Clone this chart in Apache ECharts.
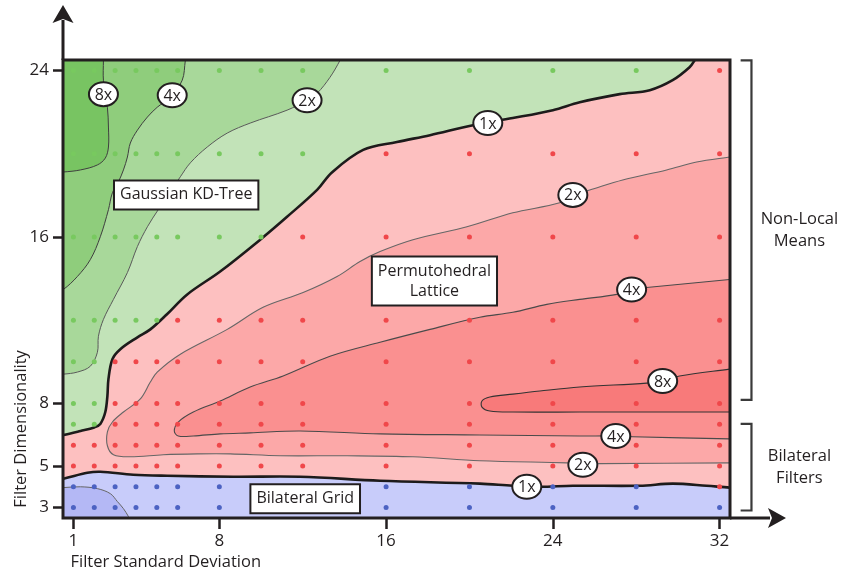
<!DOCTYPE html>
<html>
<head>
<meta charset="utf-8">
<title>Fastest filter by standard deviation and dimensionality</title>
<script src="https://cdn.jsdelivr.net/npm/echarts@6/dist/echarts.min.js"></script>
<style>
  html, body { margin: 0; padding: 0; background: #fff; }
  #chart { width: 854px; height: 577px; }
</style>
</head>
<body>
<div id="chart"></div>
<script>
var INK = '#231f20';
var FONT = '"Open Sans", "Noto Sans", sans-serif';

// axis ticks
var xTicks = [1, 8, 16, 24, 32];
var yTicks = [3, 5, 8, 16, 24];

// sample grid, one letter per point = fastest method (G kd-tree, R lattice, B grid)
var sampleX = [1, 2, 3, 4, 5, 6, 8, 10, 12, 16, 20, 24, 28, 32];
var sampleY = [24, 20, 16, 12, 10, 8, 7, 6, 5, 4, 3];
var sampleWinner = [
  'GGGGGGGGGGGGGR',
  'GGGGGGGGGRRRRR',
  'GGGGGGGGRRRRRR',
  'GGGGGRRRRRRRRR',
  'GGRRRRRRRRRRRR',
  'GGRRRRRRRRRRRR',
  'GGRRRRRRRRRRRR',
  'RRRRRRRRRRRRRR',
  'RRRRRRRRRRRRRR',
  'BBBBBBBBBBBBBR',
  'BBBBBBBBBBBBBB'
];

// contour lines [std dev, dimensionality]
// kd-tree vs lattice, left edge -> top edge
var kdTree1x = [[0.14,6.44],[0.52,6.49],[1.34,6.68],[2.0,6.85],[2.29,7.02],[2.53,7.59],[2.63,8.36],[2.68,9.17],[2.87,10.13],[3.25,10.61],[4.07,11.18],[4.69,11.56],[5.5,12.3],[6.46,13.24],[8.04,14.34],[9.96,15.87],[11.25,16.97],[12.69,18.26],[13.4,19.1],[14.9,20.18],[16.52,20.56],[18.11,20.89],[20.17,21.37],[22.08,21.71],[24.0,22.09],[25.29,22.47],[27.21,22.86],[28.65,23.05],[29.75,23.53],[30.56,24.15],[30.8,24.48],[31.0,24.87]];
var kdTree2x = [[0.14,9.41],[0.52,9.41],[1.19,9.51],[1.81,9.79],[2.15,10.46],[2.2,11.23],[2.44,12.04],[2.92,13.0],[3.59,14.29],[4.07,15.54],[4.55,16.49],[5.07,17.31],[6.13,18.89],[6.61,19.56],[7.42,20.32],[8.38,20.99],[9.48,21.47],[11.25,22.09],[12.21,22.57],[12.69,22.9],[13.31,23.67],[13.79,24.48],[13.89,24.72]];
var kdTree4x = [[0.14,13.33],[0.52,13.48],[1.19,14.1],[1.81,14.91],[2.29,16.01],[2.68,17.31],[2.87,18.12],[3.16,18.65],[3.4,19.22],[3.59,19.84],[3.73,20.51],[4.07,21.13],[4.55,21.76],[5.02,22.23],[5.65,22.71],[6.22,23.53],[6.37,24.48],[6.41,24.72]];
var kdTree8x = [[0.14,19.12],[0.52,19.12],[1.34,19.22],[2.15,19.46],[2.53,19.79],[2.68,20.32],[2.68,21.28],[2.63,22.23],[2.44,23.53],[2.44,24.48],[2.44,24.72]];
// bilateral grid vs lattice, left -> right
var grid1x = [[0.14,4.34],[0.52,4.39],[1.67,4.67],[2.29,4.72],[3.87,4.58],[5.5,4.53],[8.67,4.48],[11.88,4.48],[15.71,4.29],[20.5,4.15],[22.08,4.05],[23.38,4.0],[24.96,4.05],[28.17,4.05],[29.75,4.15],[31.38,4.05],[32.48,3.96],[32.86,3.96]];
var grid2x = [[0.14,3.96],[0.52,3.96],[1.34,4.0],[2.15,3.91],[2.77,3.67],[3.11,3.29],[3.4,2.95],[3.64,2.57],[3.73,2.38]];
// lattice speedup over the next best, closed loops from the right edge
var lattice2x = [[32.86,19.89],[32.48,19.84],[30.9,19.6],[29.46,19.22],[27.35,18.74],[25.77,18.26],[24.96,18.02],[24.33,17.64],[22.08,17.16],[19.88,16.49],[17.29,15.87],[15.71,15.3],[14.75,14.82],[13.65,14.1],[12.02,13.33],[10.1,12.62],[8.38,11.56],[6.13,10.37],[5.02,9.51],[4.69,9.03],[4.21,8.22],[3.4,7.59],[2.87,7.11],[2.63,6.64],[2.63,5.97],[2.92,5.54],[3.73,5.44],[5.31,5.54],[6.94,5.58],[8.52,5.58],[10.92,5.49],[14.13,5.49],[17.29,5.44],[20.5,5.25],[24.67,5.15],[25.44,5.11],[26.25,5.11],[32.48,5.15],[32.86,5.15]];
var lattice4x = [[32.86,14.0],[32.48,13.96],[28.5,13.57],[27.78,13.48],[27.07,13.24],[25.29,13.0],[23.71,12.76],[22.08,12.38],[20.5,12.14],[18.11,11.56],[15.71,10.94],[13.31,10.27],[11.06,9.32],[9.48,8.79],[8.04,8.12],[6.75,7.59],[6.03,7.11],[5.84,6.68],[6.03,6.44],[6.75,6.44],[8.04,6.54],[9.48,6.59],[11.88,6.68],[15.71,6.54],[20.5,6.49],[25.29,6.44],[27.02,6.44],[27.83,6.4],[32.48,6.3],[32.86,6.3]];
var lattice8x = [[32.86,9.7],[32.48,9.65],[30.08,9.32],[29.27,9.08],[28.5,8.98],[25.29,8.79],[23.38,8.6],[22.08,8.45],[20.98,8.31],[20.6,8.12],[20.6,7.83],[20.98,7.64],[22.08,7.59],[25.29,7.59],[32.48,7.59],[32.86,7.59]];

// speedup labels sitting on the contours
var speedupText = ['8x', '4x', '2x', '1x', '2x', '4x', '8x', '4x', '2x', '1x'];
var speedupX = [2.44, 5.74, 12.21, 20.88, 24.96, 27.78, 29.27, 27.02, 25.44, 22.75];
var speedupY = [22.86, 22.81, 22.57, 21.47, 18.02, 13.48, 9.08, 6.44, 5.06, 4.0];

// method names inside the regions
var methodNames = ['Gaussian KD-Tree', 'Permutohedral\nLattice', 'Bilateral Grid'];
var methodX = [6.41, 18.32, 12.12];
var methodY = [18.02, 13.88, 3.43];

// brackets on the right
var bracketNames = ['Non-Local\nMeans', 'Bilateral\nFilters'];
var bracketTop = [24.48, 7.02];
var bracketBottom = [8.17, 2.86];

var chart = echarts.init(document.getElementById('chart'));

// filled region, outline drawn as its stroke (parts outside the plot get clipped)
function region(curve, closing, fill, stroke, width, z) {
  var pts = curve.concat(closing);
  return {
    type: 'custom',
    coordinateSystem: 'cartesian2d',
    clip: true,
    silent: true,
    z: z,
    data: [[1, 3]],
    renderItem: function (params, api) {
      return {
        type: 'polygon',
        shape: {
          points: pts.map(function (p) { return api.coord(p); }),
          smooth: 0.35
        },
        style: { fill: fill, stroke: stroke, lineWidth: width }
      };
    }
  };
}

function first(a) { return a[0]; }
function last(a) { return a[a.length - 1]; }
function topLeftClose(c) { return [[last(c)[0], 27], [-2, 27], [-2, first(c)[1]]]; }
function bottomClose(c) { return [[last(c)[0], 1], [-2, 1], [-2, first(c)[1]]]; }

var dots = { G: [], R: [], B: [] };
sampleY.forEach(function (y, i) {
  sampleX.forEach(function (x, j) {
    dots[sampleWinner[i].charAt(j)].push([x, y]);
  });
});

function dotSeries(list, color) {
  return {
    type: 'scatter',
    data: list,
    symbolSize: 5,
    silent: true,
    z: 4,
    itemStyle: { color: color, opacity: 1 }
  };
}

var series = [
  region(kdTree1x, topLeftClose(kdTree1x), '#c2e3b8', '#1d1b1b', 2.6, 2),
  region(kdTree2x, topLeftClose(kdTree2x), '#a8d89a', '#5a5a5a', 1, 2),
  region(kdTree4x, topLeftClose(kdTree4x), '#8fcd7c', '#3f3f3f', 1, 2),
  region(kdTree8x, topLeftClose(kdTree8x), '#78c462', '#3f3f3f', 1, 2),
  region(grid1x, bottomClose(grid1x), '#c8ccfa', '#1d1b1b', 2.6, 2),
  region(grid2x, bottomClose(grid2x), '#b4b8f5', '#666666', 1, 2),
  region(lattice2x, [], '#fca8a8', '#666666', 1.1, 2),
  region(lattice4x, [], '#fa9090', '#4a4a4a', 1.1, 2),
  region(lattice8x, [], '#f87a7a', '#333333', 1.1, 2),
  dotSeries(dots.G, '#78c95f'),
  dotSeries(dots.R, '#f0474a'),
  dotSeries(dots.B, '#4c62c2'),
  {
    // speedup ellipses
    type: 'custom',
    coordinateSystem: 'cartesian2d',
    silent: true,
    z: 6,
    data: speedupX.map(function (x, i) { return [x, speedupY[i]]; }),
    renderItem: function (params, api) {
      var p = api.coord([api.value(0), api.value(1)]);
      return {
        type: 'group',
        children: [
          { type: 'ellipse', shape: { cx: p[0], cy: p[1], rx: 14.5, ry: 12 },
            style: { fill: '#fff', stroke: INK, lineWidth: 2 } },
          { type: 'text', x: p[0], y: p[1] + 1,
            style: { text: speedupText[params.dataIndex], fill: INK, font: '16px ' + FONT,
                     align: 'center', verticalAlign: 'middle' } }
        ]
      };
    }
  },
  {
    // method boxes
    type: 'custom',
    coordinateSystem: 'cartesian2d',
    silent: true,
    z: 6,
    data: methodX.map(function (x, i) { return [x, methodY[i]]; }),
    renderItem: function (params, api) {
      var p = api.coord([api.value(0), api.value(1)]);
      return {
        type: 'text', x: p[0], y: p[1],
        style: {
          text: methodNames[params.dataIndex], fill: INK, font: '16px ' + FONT,
          lineHeight: 20, align: 'center', verticalAlign: 'middle',
          backgroundColor: '#fff', borderColor: INK, borderWidth: 2, padding: [4, 5, 3, 5]
        }
      };
    }
  },
  {
    // frame, axis arrows, brackets, axis titles
    type: 'custom',
    coordinateSystem: 'cartesian2d',
    clip: false,
    silent: true,
    z: 8,
    data: [[1, 3]],
    renderItem: function (params, api) {
      var cs = params.coordSys;
      var x0 = cs.x, y0 = cs.y, x1 = cs.x + cs.width, y1 = cs.y + cs.height;
      var kids = [
        { type: 'rect', shape: { x: x0, y: y0, width: cs.width, height: cs.height },
          style: { fill: 'none', stroke: INK, lineWidth: 3 } },
        { type: 'line', shape: { x1: x0, y1: y0, x2: x0, y2: y0 - 40 },
          style: { stroke: INK, lineWidth: 3 } },
        { type: 'polygon', shape: { points: [[x0, y0 - 55], [x0 + 10.5, y0 - 37], [x0, y0 - 41], [x0 - 10.5, y0 - 37]] },
          style: { fill: INK } },
        { type: 'line', shape: { x1: x1, y1: y1, x2: x1 + 40, y2: y1 },
          style: { stroke: INK, lineWidth: 3 } },
        { type: 'polygon', shape: { points: [[x1 + 56, y1], [x1 + 38, y1 - 10], [x1 + 42, y1], [x1 + 38, y1 + 10]] },
          style: { fill: INK } }
      ];
      bracketNames.forEach(function (name, i) {
        var a = api.coord([33.01, bracketTop[i]]);
        var b = api.coord([33.53, bracketTop[i]]);
        var c = api.coord([33.53, bracketBottom[i]]);
        var d = api.coord([33.01, bracketBottom[i]]);
        kids.push({ type: 'polyline', shape: { points: [a, b, c, d] },
          style: { fill: 'none', stroke: '#3a3a3a', lineWidth: 2.2 } });
        var t = api.coord([35.83, (bracketTop[i] + bracketBottom[i]) / 2]);
        kids.push({ type: 'text', x: t[0], y: t[1],
          style: { text: name, fill: INK, font: '16.5px ' + FONT, lineHeight: 22,
                   align: 'center', verticalAlign: 'middle' } });
      });
      var yt = api.coord([-1.49, 6.78]);
      kids.push({ type: 'text', x: yt[0], y: yt[1], rotation: Math.PI / 2,
        style: { text: 'Filter Dimensionality', fill: INK, font: '16.5px ' + FONT,
                 align: 'center', verticalAlign: 'middle' } });
      var xt = api.coord([0.86, 0.37]);
      kids.push({ type: 'text', x: xt[0], y: xt[1],
        style: { text: 'Filter Standard Deviation', fill: INK, font: '16.5px ' + FONT,
                 align: 'left', verticalAlign: 'middle' } });
      return { type: 'group', children: kids };
    }
  }
];

var option = {
  animation: false,
  grid: {
    left: 63, right: 124, top: 60, bottom: 59,
    show: true, backgroundColor: '#fdc0c0', borderWidth: 0,
    containLabel: false, outerBoundsMode: 'none'
  },
  xAxis: {
    type: 'value', min: 0.5, max: 32.5,
    axisLine: { show: false },
    axisTick: { show: true, customValues: xTicks, length: 11, lineStyle: { color: INK, width: 2.5 } },
    axisLabel: { customValues: xTicks, margin: 15, color: INK, fontSize: 17, fontFamily: FONT },
    splitLine: { show: false }
  },
  yAxis: {
    type: 'value', min: 2.5, max: 24.5,
    axisLine: { show: false },
    axisTick: { show: true, customValues: yTicks, length: 10, lineStyle: { color: INK, width: 2.5 } },
    axisLabel: { customValues: yTicks, margin: 14, color: INK, fontSize: 17, fontFamily: FONT },
    splitLine: { show: false }
  },
  series: series
};

chart.setOption(option);
</script>
</body>
</html>
